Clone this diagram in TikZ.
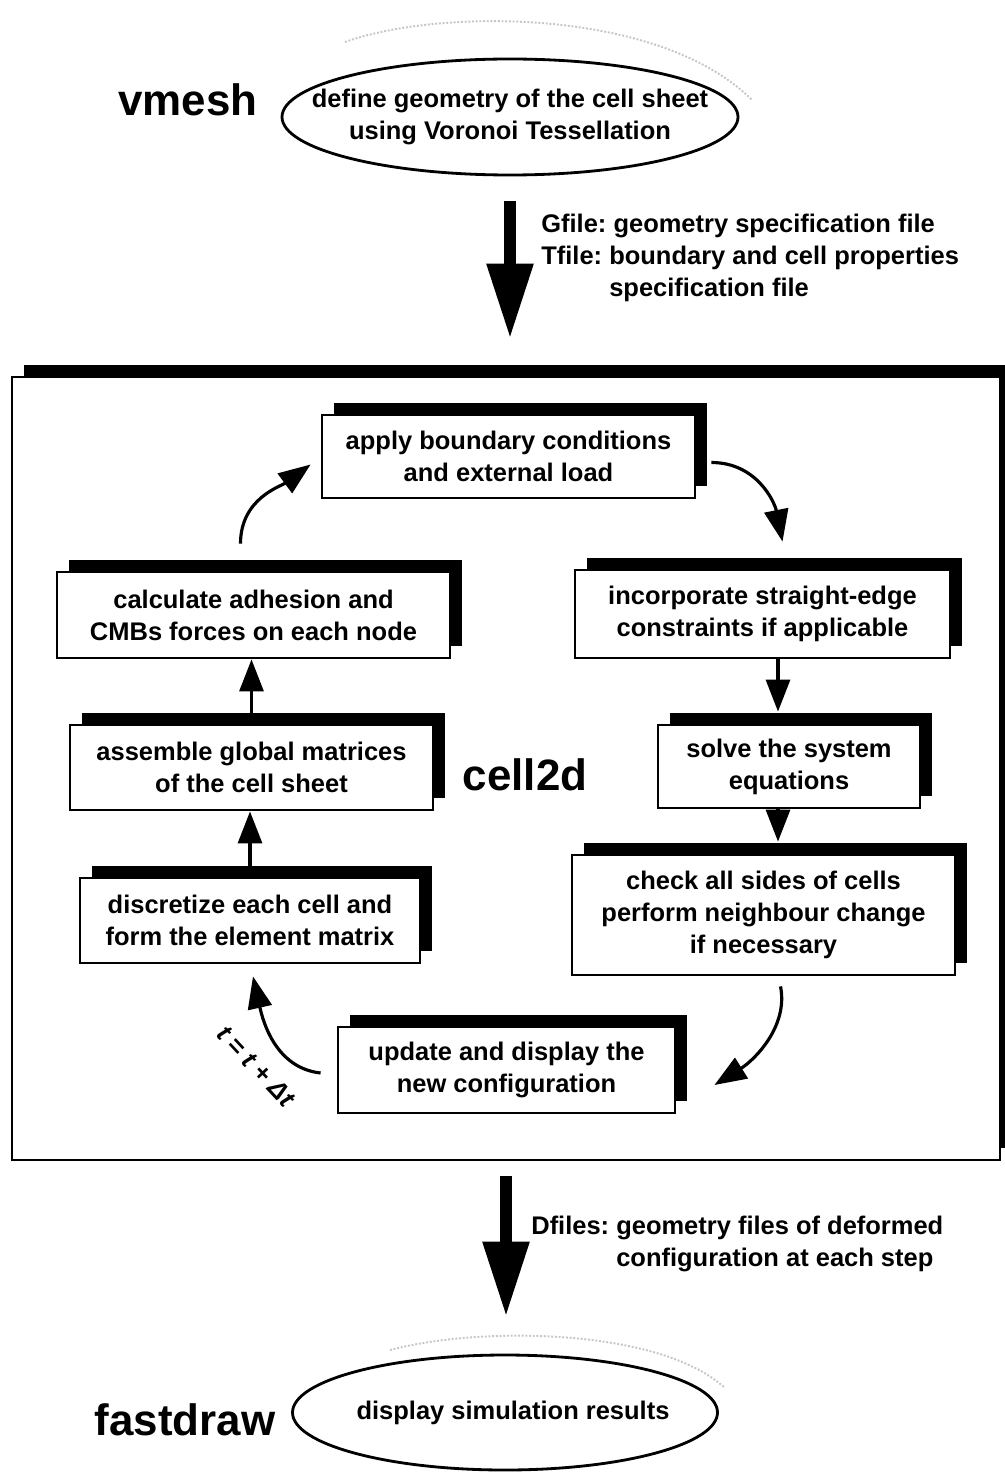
\documentclass[tikz,border=0pt]{standalone}
\usepackage{fontspec}
\setmainfont{Liberation Sans}
\usetikzlibrary{arrows.meta,shadows,shapes.geometric,calc}
\newdimen\px \px=0.02cm
\newcommand\procfont{\bfseries\fontsize{14.5}{18.2}\selectfont}
\frenchspacing

\begin{document}
\begin{tikzpicture}[x=0.02cm, y=-0.02cm,
  procbox/.style={draw, line width=1.6pt, fill=white, align=center, inner sep=0pt,
    font=\procfont,
    drop shadow={shadow xshift=0.24cm, shadow yshift=0.24cm, fill=black, opacity=1}},
  progell/.style={draw, ellipse, line width=1.6pt, inner sep=0pt},
  progname/.style={font=\bfseries\fontsize{25}{30}\selectfont},
  proctext/.style={align=center, inner sep=0pt, font=\procfont},
  filetext/.style={align=left, inner sep=0pt, font=\procfont},
  speckle/.style={densely dotted, gray!45, line width=1.1pt},
  flowarr/.style={line width=1.8pt, -{Triangle[length=0.64cm, width=0.48cm]}},
  bigarr/.style={line width=0.24cm, -{Triangle[length=1.5cm, width=0.88cm]}}]

\useasboundingbox (0,0) rectangle (1004,1483);

% vmesh
\draw[speckle] (345,42) .. controls (440,8) and (660,8) .. (752,100);
\node[progell, minimum width=456\px, minimum height=116\px] (vmesh) at (510,117) {};
\node[proctext] (vmeshtxt) at (vmesh) {define geometry of the cell sheet\\using Voronoi Tessellation};
\node[progname] (vmeshlbl) at (188,100) {vmesh};

% cell2d loop
\node[procbox, minimum width=988\px, minimum height=783\px] (cell2d) at (506,768.5) {};
\node[progname] (cell2dlbl) at (525,775) {cell2d};

\node[procbox, minimum width=373\px, minimum height=83\px] (apply) at (508.5,456.5) {apply boundary conditions\\and external load};
\node[procbox, minimum width=393\px, minimum height=86\px] (calc) at (253.5,615) {calculate adhesion and\\CMBs forces on each node};
\node[procbox, minimum width=375\px, minimum height=88\px] (incorp) at (762.5,614) {incorporate straight-edge\\constraints if applicable};
\node[procbox, minimum width=363\px, minimum height=85\px] (assemble) at (251.5,767.5) {assemble global matrices\\of the cell sheet};
\node[procbox, minimum width=262\px, minimum height=83\px] (solve) at (789,766.5) {solve the system\\equations};
\node[procbox, minimum width=340\px, minimum height=85\px] (discr) at (250,920.5) {discretize each cell and\\form the element matrix};
\node[procbox, minimum width=383\px, minimum height=120\px] (check) at (763.5,915) {check all sides of cells\\perform neighbour change\\if necessary};
\node[procbox, minimum width=337\px, minimum height=86\px] (update) at (506.5,1070) {update and display the\\new configuration};

\coordinate (sx) at ($(solve.north)+(-11,0)$);
\draw[flowarr] (assemble.north) -- (assemble.north |- calc.south);
\draw[flowarr] (discr.north) -- (discr.north |- assemble.south);
\draw[flowarr, shorten >=0.24cm] (sx |- incorp.south) -- (sx);
\draw[flowarr, shorten >=0.24cm] (sx |- solve.south) -- (sx |- check.north);

\draw[flowarr] ($(calc.north)+(-13,-27)$) .. controls +(0,-45) and +(-30,22) .. ($(apply.west)+(-10,8)$);
\draw[flowarr] ($(apply.east)+(15,6)$) .. controls +(45,0) and +(-8,-40) .. ($(incorp.north)+(20,-27)$);
\draw[flowarr] ($(check.south)+(17,10)$) .. controls +(8,40) and +(40,-25) .. ($(update.east)+(38,15)$);
\draw[flowarr] ($(update.west)+(-16,3)$) .. controls +(-45,-5) and +(10,45) .. ($(discr.south)+(3,12)$);
\node[proctext, rotate=-47] (tstep) at (256,1066) {\itshape t = t + Δt};

% fastdraw
\draw[speckle] (390,1350) .. controls (480,1326) and (660,1328) .. (725,1388);
\node[progell, minimum width=425\px, minimum height=115\px] (fast) at (505,1412.5) {};
\node[proctext] (fasttxt) at ($(fast)+(8,0)$) {display simulation results};
\node[progname] (fastlbl) at (185,1420) {fastdraw};

% files between the programs
\draw[bigarr, shorten <=0.5cm, shorten >=0.74cm] (vmesh.south) -- (vmesh.south |- cell2d.north);
\node[filetext, anchor=north west] (gfile) at (541,214) {Gfile: geometry specification file\\Tfile: boundary and cell properties\\\phantom{Tfile: }specification file};
\draw[bigarr, shorten <=0.3cm, shorten >=0.74cm] (cell2d.south) -- (cell2d.south |- fast.north);
\node[filetext, anchor=north west] (dfiles) at (531,1216) {Dfiles: geometry files of deformed\\\phantom{Dfiles: }configuration at each step};
\end{tikzpicture}
\end{document}
